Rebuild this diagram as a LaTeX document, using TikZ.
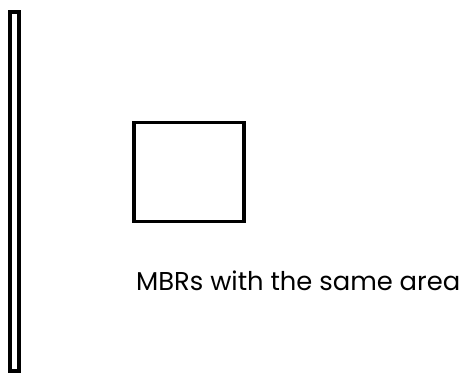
\documentclass[tikz,border=0pt]{standalone}
\usepackage{fontspec}
\setmainfont{Poppins}
\usetikzlibrary{positioning}

\begin{document}
\begin{tikzpicture}[
  x=1pt, y=-1pt,
  every node/.style={font=\fontsize{25.8}{30}\selectfont},
  mbr/.style={draw=black, line width=3.8pt, inner sep=0pt, fill=none},
  lbl/.style={inner sep=0pt, anchor=base west}
]
\useasboundingbox (0, 0) rectangle (469, 374);

% the two MBRs
\node[mbr, minimum width=9.5pt, minimum height=359pt] (tall) at (14.5, 191.5) {};
\node[mbr, minimum width=110pt, minimum height=99pt] (square) at (189, 172) {};

\node[lbl] (caption) at (136, 291) {MBRs with the same area};

\end{tikzpicture}
\end{document}
